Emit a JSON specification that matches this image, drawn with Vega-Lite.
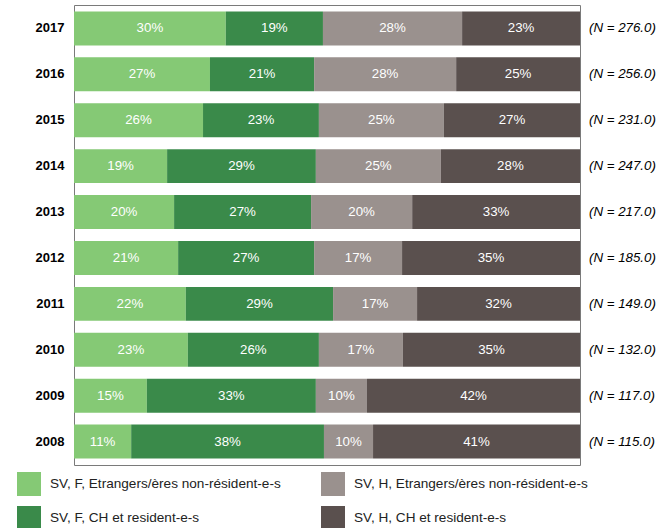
{
  "$schema": "https://vega.github.io/schema/vega-lite/v6.json",
  "width": 506,
  "height": 460,
  "autosize": {"type": "none"},
  "padding": {"left": 74, "top": 5, "right": 91, "bottom": 63},
  "config": {
    "font": "Liberation Sans",
    "view": {"stroke": "#7a7a7a", "strokeWidth": 1}
  },
  "datasets": {
    "shares": [
      {"year": "2017", "cat": "SV, F, Etrangers/ères non-résident-e-s", "share": 30.0, "pct": 30},
      {"year": "2017", "cat": "SV, F, CH et resident-e-s", "share": 19.2, "pct": 19},
      {"year": "2017", "cat": "SV, H, Etrangers/ères non-résident-e-s", "share": 27.5, "pct": 28},
      {"year": "2017", "cat": "SV, H, CH et resident-e-s", "share": 23.3, "pct": 23},
      {"year": "2016", "cat": "SV, F, Etrangers/ères non-résident-e-s", "share": 26.9, "pct": 27},
      {"year": "2016", "cat": "SV, F, CH et resident-e-s", "share": 20.6, "pct": 21},
      {"year": "2016", "cat": "SV, H, Etrangers/ères non-résident-e-s", "share": 28.1, "pct": 28},
      {"year": "2016", "cat": "SV, H, CH et resident-e-s", "share": 24.5, "pct": 25},
      {"year": "2015", "cat": "SV, F, Etrangers/ères non-résident-e-s", "share": 25.5, "pct": 26},
      {"year": "2015", "cat": "SV, F, CH et resident-e-s", "share": 22.9, "pct": 23},
      {"year": "2015", "cat": "SV, H, Etrangers/ères non-résident-e-s", "share": 24.7, "pct": 25},
      {"year": "2015", "cat": "SV, H, CH et resident-e-s", "share": 26.9, "pct": 27},
      {"year": "2014", "cat": "SV, F, Etrangers/ères non-résident-e-s", "share": 18.4, "pct": 19},
      {"year": "2014", "cat": "SV, F, CH et resident-e-s", "share": 29.4, "pct": 29},
      {"year": "2014", "cat": "SV, H, Etrangers/ères non-résident-e-s", "share": 24.7, "pct": 25},
      {"year": "2014", "cat": "SV, H, CH et resident-e-s", "share": 27.5, "pct": 28},
      {"year": "2013", "cat": "SV, F, Etrangers/ères non-résident-e-s", "share": 19.8, "pct": 20},
      {"year": "2013", "cat": "SV, F, CH et resident-e-s", "share": 27.1, "pct": 27},
      {"year": "2013", "cat": "SV, H, Etrangers/ères non-résident-e-s", "share": 20.0, "pct": 20},
      {"year": "2013", "cat": "SV, H, CH et resident-e-s", "share": 33.2, "pct": 33},
      {"year": "2012", "cat": "SV, F, Etrangers/ères non-résident-e-s", "share": 20.6, "pct": 21},
      {"year": "2012", "cat": "SV, F, CH et resident-e-s", "share": 26.9, "pct": 27},
      {"year": "2012", "cat": "SV, H, Etrangers/ères non-résident-e-s", "share": 17.4, "pct": 17},
      {"year": "2012", "cat": "SV, H, CH et resident-e-s", "share": 35.2, "pct": 35},
      {"year": "2011", "cat": "SV, F, Etrangers/ères non-résident-e-s", "share": 22.1, "pct": 22},
      {"year": "2011", "cat": "SV, F, CH et resident-e-s", "share": 29.1, "pct": 29},
      {"year": "2011", "cat": "SV, H, Etrangers/ères non-résident-e-s", "share": 16.6, "pct": 17},
      {"year": "2011", "cat": "SV, H, CH et resident-e-s", "share": 32.2, "pct": 32},
      {"year": "2010", "cat": "SV, F, Etrangers/ères non-résident-e-s", "share": 22.5, "pct": 23},
      {"year": "2010", "cat": "SV, F, CH et resident-e-s", "share": 25.9, "pct": 26},
      {"year": "2010", "cat": "SV, H, Etrangers/ères non-résident-e-s", "share": 16.6, "pct": 17},
      {"year": "2010", "cat": "SV, H, CH et resident-e-s", "share": 35.0, "pct": 35},
      {"year": "2009", "cat": "SV, F, Etrangers/ères non-résident-e-s", "share": 14.4, "pct": 15},
      {"year": "2009", "cat": "SV, F, CH et resident-e-s", "share": 33.4, "pct": 33},
      {"year": "2009", "cat": "SV, H, Etrangers/ères non-résident-e-s", "share": 10.1, "pct": 10},
      {"year": "2009", "cat": "SV, H, CH et resident-e-s", "share": 42.1, "pct": 42},
      {"year": "2008", "cat": "SV, F, Etrangers/ères non-résident-e-s", "share": 11.3, "pct": 11},
      {"year": "2008", "cat": "SV, F, CH et resident-e-s", "share": 38.1, "pct": 38},
      {"year": "2008", "cat": "SV, H, Etrangers/ères non-résident-e-s", "share": 9.7, "pct": 10},
      {"year": "2008", "cat": "SV, H, CH et resident-e-s", "share": 40.9, "pct": 41}
    ],
    "totals": [
      {"year": "2017", "n": "(N = 276.0)"},
      {"year": "2016", "n": "(N = 256.0)"},
      {"year": "2015", "n": "(N = 231.0)"},
      {"year": "2014", "n": "(N = 247.0)"},
      {"year": "2013", "n": "(N = 217.0)"},
      {"year": "2012", "n": "(N = 185.0)"},
      {"year": "2011", "n": "(N = 149.0)"},
      {"year": "2010", "n": "(N = 132.0)"},
      {"year": "2009", "n": "(N = 117.0)"},
      {"year": "2008", "n": "(N = 115.0)"}
    ]
  },
  "encoding": {
    "y": {
      "field": "year",
      "type": "nominal",
      "sort": "descending",
      "scale": {"paddingInner": 0.26, "paddingOuter": 0.14},
      "axis": {
        "title": null,
        "domain": false,
        "ticks": false,
        "labelFontSize": 13,
        "labelFontWeight": "bold",
        "labelColor": "#000000",
        "labelPadding": 10
      }
    }
  },
  "layer": [
    {
      "data": {"name": "shares"},
      "transform": [
        {"calculate": "indexof(['SV, F, Etrangers/ères non-résident-e-s','SV, F, CH et resident-e-s','SV, H, Etrangers/ères non-résident-e-s','SV, H, CH et resident-e-s'], datum.cat)", "as": "k"},
        {"stack": "share", "groupby": ["year"], "sort": [{"field": "k"}], "offset": "normalize", "as": ["x0", "x1"]}
      ],
      "mark": {"type": "bar"},
      "encoding": {
        "x": {"field": "x0", "type": "quantitative", "scale": {"domain": [0, 1], "nice": false, "zero": true}, "axis": null},
        "x2": {"field": "x1"},
        "color": {
          "field": "cat",
          "type": "nominal",
          "scale": {
            "domain": ["SV, F, Etrangers/ères non-résident-e-s", "SV, F, CH et resident-e-s", "SV, H, Etrangers/ères non-résident-e-s", "SV, H, CH et resident-e-s"],
            "range": ["#85C975", "#3A8A4A", "#9A918E", "#5A504E"]
          },
          "legend": {
            "title": null,
            "orient": "none",
            "legendX": -57,
            "legendY": 467,
            "columns": 2,
            "direction": "horizontal",
            "values": ["SV, F, Etrangers/ères non-résident-e-s", "SV, H, Etrangers/ères non-résident-e-s", "SV, F, CH et resident-e-s", "SV, H, CH et resident-e-s"],
            "symbolType": "square",
            "symbolSize": 576,
            "symbolStrokeWidth": 0,
            "symbolOpacity": 1,
            "labelFontSize": 13.6,
            "labelColor": "#222222",
            "labelOffset": 9,
            "labelLimit": 300,
            "rowPadding": 10,
            "columnPadding": 40
          }
        }
      }
    },
    {
      "data": {"name": "shares"},
      "transform": [
        {"calculate": "indexof(['SV, F, Etrangers/ères non-résident-e-s','SV, F, CH et resident-e-s','SV, H, Etrangers/ères non-résident-e-s','SV, H, CH et resident-e-s'], datum.cat)", "as": "k"},
        {"stack": "share", "groupby": ["year"], "sort": [{"field": "k"}], "offset": "normalize", "as": ["x0", "x1"]},
        {"calculate": "(datum.x0 + datum.x1) / 2", "as": "xm"},
        {"calculate": "datum.pct + '%'", "as": "lab"}
      ],
      "mark": {"type": "text", "color": "#FFFFFF", "fontSize": 13.3, "align": "center", "baseline": "middle"},
      "encoding": {
        "x": {"field": "xm", "type": "quantitative"},
        "text": {"field": "lab", "type": "nominal"}
      }
    },
    {
      "data": {"name": "totals"},
      "mark": {"type": "text", "fontStyle": "italic", "fontSize": 13.3, "color": "#000000", "align": "left", "baseline": "middle", "dx": 9},
      "encoding": {
        "x": {"datum": 1, "type": "quantitative"},
        "text": {"field": "n", "type": "nominal"}
      }
    }
  ]
}
